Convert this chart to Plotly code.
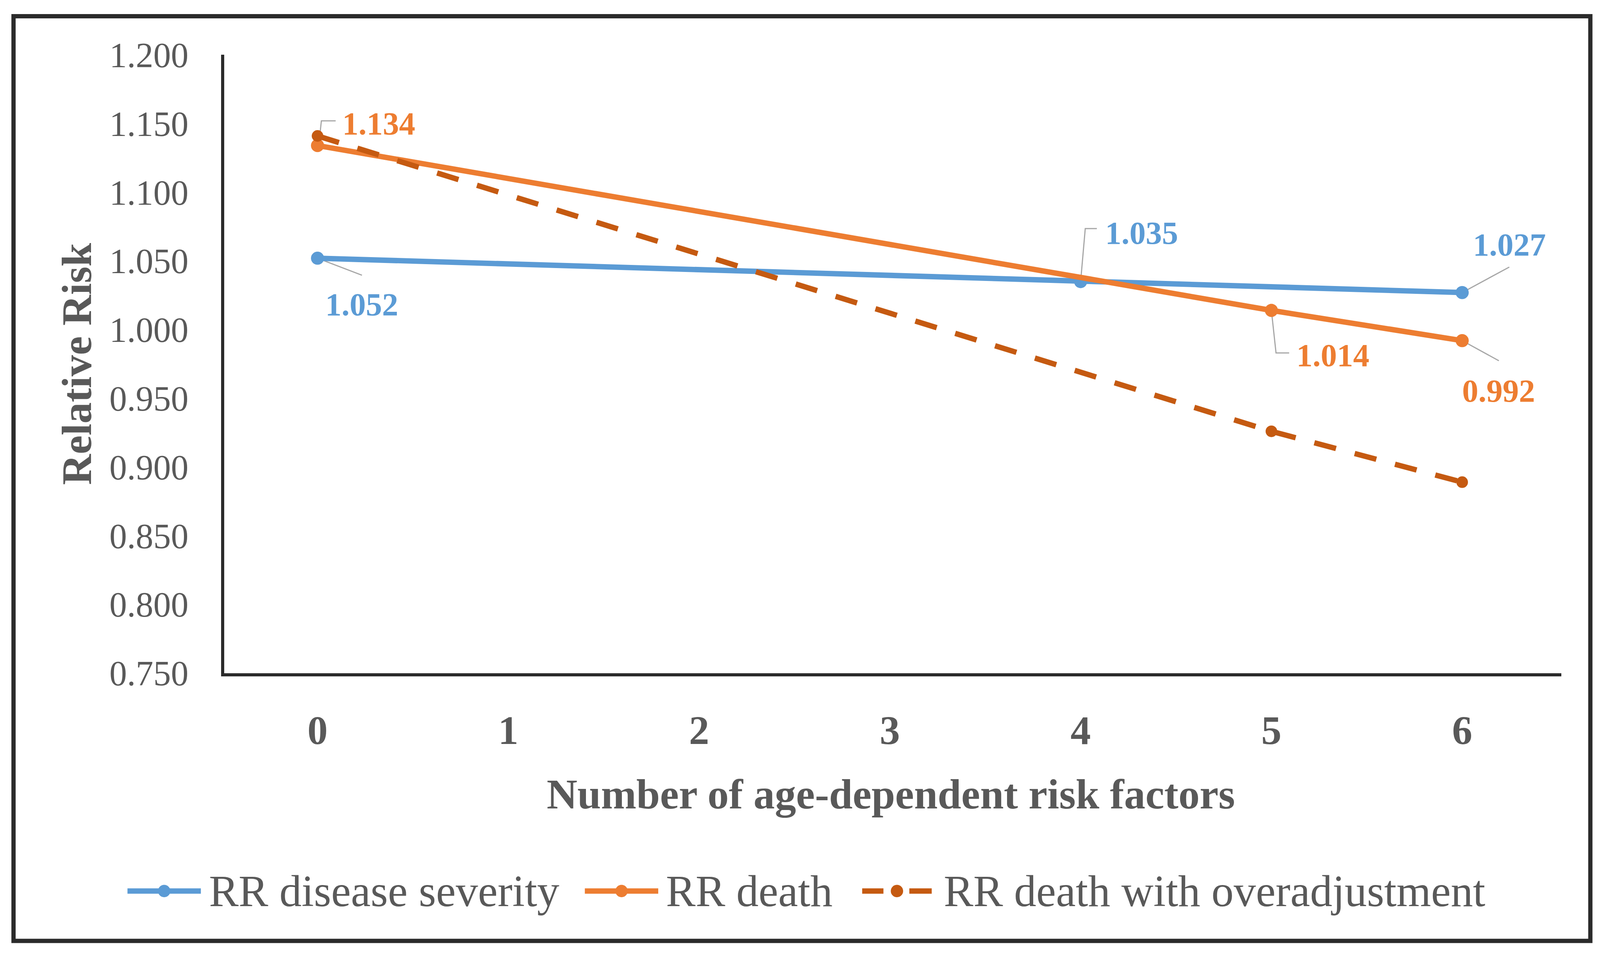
import plotly.graph_objects as go

# ---------------- data ----------------
x_cats = [0, 1, 2, 3, 4, 5, 6]
x_tick_labels = ["0", "1", "2", "3", "4", "5", "6"]
rr_severity = [1.052, None, None, None, 1.035, None, 1.027]
rr_death = [1.134, None, None, None, None, 1.014, 0.992]
rr_death_over = [1.141, None, None, None, None, 0.926, 0.889]
y_ticks = [0.75, 0.80, 0.85, 0.90, 0.95, 1.00, 1.05, 1.10, 1.15, 1.20]
series_names = ["RR disease severity", "RR death", "RR death with overadjustment"]
x_title = "Number of age-dependent risk factors"
y_title = "Relative Risk"

# ---------------- style ----------------
BLUE = "#5B9BD5"
ORANGE = "#ED7D31"
DARK_ORANGE = "#C55A11"
GRAY_TXT = "#595959"
LEADER = "#A6A6A6"
AXIS = "#2B2B2B"
FONT = "Liberation Serif"
LW = 14
MS = 34
W, H = 4142, 2462

fig = go.Figure()

fig.add_trace(go.Scatter(x=x_cats, y=rr_severity, name=series_names[0], mode="lines+markers",
                         connectgaps=True, line=dict(color=BLUE, width=LW),
                         marker=dict(color=BLUE, size=MS)))
fig.add_trace(go.Scatter(x=x_cats, y=rr_death, name=series_names[1], mode="lines+markers",
                         connectgaps=True, line=dict(color=ORANGE, width=LW),
                         marker=dict(color=ORANGE, size=MS)))
fig.add_trace(go.Scatter(x=x_cats, y=rr_death_over, name=series_names[2], mode="lines+markers",
                         connectgaps=True, line=dict(color=DARK_ORANGE, width=LW, dash="58px,50px"),
                         marker=dict(color=DARK_ORANGE, size=30)))

# ---------------- data labels with leader lines ----------------
# (series, index, color, text dx, text dy (up +), leader path in px relative to point, y up +)
label_specs = [
    (rr_severity, 0, BLUE, 115, -119, [(0, 0), (115, -44)]),
    (rr_death, 0, ORANGE, 159, 57, [(3, 0), (10, 64), (47, 64)]),
    (rr_severity, 4, BLUE, 158, 126, [(0, 0), (12, 137), (42, 137)]),
    (rr_severity, 6, BLUE, 122, 125, [(0, 0), (122, 66)]),
    (rr_death, 5, ORANGE, 159, -116, [(0, 0), (12, -110), (46, -110)]),
    (rr_death, 6, ORANGE, 94, -130, [(0, 0), (95, -52)]),
]

shapes = []
annotations = []
for values, idx, color, dx, dy, path_pts in label_specs:
    val = values[idx]
    path = "M " + " L ".join(f"{px},{py}" for px, py in path_pts)
    shapes.append(dict(type="path", xref="x", yref="y", xsizemode="pixel", ysizemode="pixel",
                       xanchor=x_cats[idx], yanchor=val, path=path,
                       line=dict(color=LEADER, width=3), layer="below"))
    annotations.append(dict(x=x_cats[idx], y=val, xref="x", yref="y", text=f"{val:.3f}",
                            showarrow=False, xshift=dx, yshift=dy, xanchor="center", yanchor="middle",
                            font=dict(family=FONT, size=84, color=color, weight="bold")))

# ---------------- legend (drawn manually for Excel-like long symbols) ----------------
LEG_Y = -564  # px below plot bottom
legend_items = [
    (series_names[0], BLUE, "solid", -250, -60, -41),
    (series_names[1], ORANGE, "solid", 934, 1124, 1142),
    (series_names[2], DARK_ORANGE, "split", 1652, 1832, 1861),
]
for name, color, kind, x0, x1, tx in legend_items:
    xc = (x0 + x1) / 2
    if kind == "solid":
        shapes.append(dict(type="line", xref="paper", yref="paper", xsizemode="pixel", ysizemode="pixel",
                           xanchor=0, yanchor=0, x0=x0, x1=x1, y0=LEG_Y, y1=LEG_Y,
                           line=dict(color=color, width=LW)))
    else:
        for a, b in [(x0, x0 + 55), (x1 - 58, x1)]:
            shapes.append(dict(type="line", xref="paper", yref="paper", xsizemode="pixel", ysizemode="pixel",
                               xanchor=0, yanchor=0, x0=a, x1=b, y0=LEG_Y, y1=LEG_Y,
                               line=dict(color=color, width=LW)))
    shapes.append(dict(type="circle", xref="paper", yref="paper", xsizemode="pixel", ysizemode="pixel",
                       xanchor=0, yanchor=0, x0=xc - 16, x1=xc + 16, y0=LEG_Y - 16, y1=LEG_Y + 16,
                       fillcolor=color, line=dict(width=0)))
    annotations.append(dict(x=0, y=0, xref="paper", yref="paper", xshift=tx, yshift=LEG_Y,
                            xanchor="left", yanchor="middle", showarrow=False, text=name,
                            font=dict(family=FONT, size=115, color=GRAY_TXT)))

# ---------------- axis titles ----------------
annotations.append(dict(x=0.5, y=0, xref="paper", yref="paper", yshift=-313, xshift=-5,
                        xanchor="center", yanchor="middle", showarrow=False, text=x_title,
                        font=dict(family=FONT, size=110, color=GRAY_TXT, weight="bold")))
annotations.append(dict(x=0, y=0.5, xref="paper", yref="paper", xshift=-381,
                        xanchor="center", yanchor="middle", showarrow=False, text=y_title,
                        textangle=-90,
                        font=dict(family=FONT, size=110, color=GRAY_TXT, weight="bold")))

# ---------------- outer frame ----------------
shapes.append(dict(type="rect", xref="paper", yref="paper", xsizemode="pixel", ysizemode="pixel",
                   xanchor=0, yanchor=0, x0=-545, x1=3537, y0=-693, y1=1700,
                   line=dict(color=AXIS, width=11), fillcolor="rgba(0,0,0,0)"))

fig.update_layout(
    width=W, height=H,
    margin=dict(l=580, r=100, t=142, b=720, autoexpand=False),
    paper_bgcolor="white", plot_bgcolor="white",
    showlegend=False,
    font=dict(family=FONT, color=GRAY_TXT),
    shapes=shapes, annotations=annotations,
)
fig.update_xaxes(range=[-0.49, 6.52], tickvals=x_cats, ticktext=x_tick_labels,
                 showline=True, linecolor=AXIS, linewidth=8, showgrid=False, zeroline=False,
                 ticks="", ticklabelstandoff=49,
                 tickfont=dict(family=FONT, size=105, color=GRAY_TXT, weight="bold"))
fig.update_yaxes(range=[0.75, 1.2], tickvals=y_ticks, tickformat=".3f",
                 showline=True, linecolor=AXIS, linewidth=8, showgrid=False, zeroline=False,
                 ticks="", ticklabelstandoff=66,
                 tickfont=dict(family=FONT, size=91, color=GRAY_TXT))

post = (
    "document.documentElement.style.margin='0';"
    "document.body.style.margin='0';"
    "document.documentElement.style.overflow='hidden';"
    "document.body.style.overflow='hidden';"
    "var gd=document.getElementById('{plot_id}');"
    "var s=Math.min(window.innerWidth/%d, window.innerHeight/%d, 1);"
    "if(s<1){gd.style.transformOrigin='0 0';gd.style.transform='scale('+s+')';}"
) % (W, H)

fig.write_html("out.html", post_script=post, config={"displayModeBar": False})
